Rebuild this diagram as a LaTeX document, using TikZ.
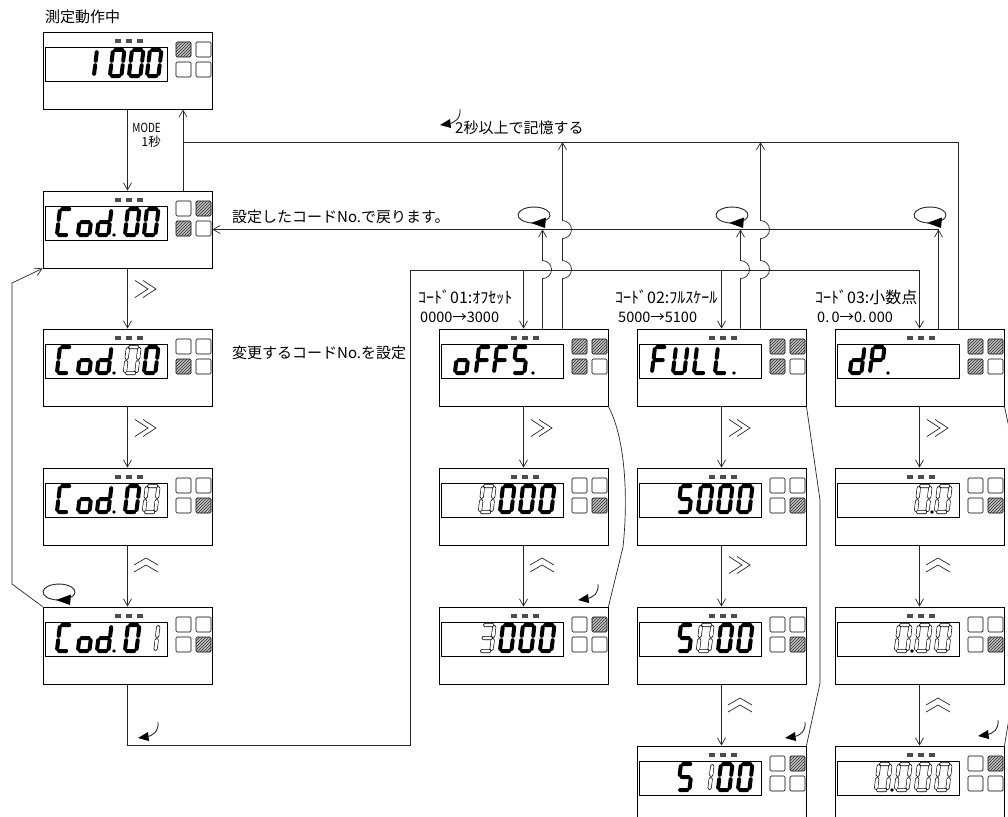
\documentclass[tikz,border=0pt]{standalone}
\usepackage{fontspec}
\newfontfamily\jp{Noto Sans CJK JP}
\usetikzlibrary{arrows.meta,patterns,calc}
% seven segment pieces (local coords, y down)
\def\SgA{(2.2,0)--(9.3,0)}
\def\SgB{(11.5,2.2)--(11.5,10.8)}
\def\SgC{(11.5,15.2)--(11.5,23.8)}
\def\SgD{(2.2,26)--(9.3,26)}
\def\SgE{(0,15.2)--(0,23.8)}
\def\SgF{(0,2.2)--(0,10.8)}
\def\SgG{(2.2,13)--(9.3,13)}
\def\cZero{\SgA\SgB\SgC\SgD\SgE\SgF}
\def\cOneR{\SgB\SgC}
\def\cOneL{\SgE\SgF}
\def\cThree{\SgA\SgB\SgC\SgD\SgG}
\def\cFive{\SgA\SgF\SgG\SgC\SgD}
\def\cCee{\SgA\SgF\SgE\SgD}
\def\cOh{\SgG\SgC\SgD\SgE}
\def\cDee{\SgB\SgC\SgD\SgE\SgG}
\def\cEf{\SgA\SgF\SgE\SgG}
\def\cU{\SgB\SgC\SgD\SgE\SgF}
\def\cL{\SgF\SgE\SgD}
\def\cP{\SgA\SgB\SgF\SgE\SgG}
\newcommand{\dg}[3]{\begin{scope}[shift={(#1,18)},xslant=0.12]\draw[#3] #2;\end{scope}}
\newcommand{\dt}[1]{\fill (#1,44) circle[radius=1.8];}
\newcommand{\dev}[8]{%
  \node[devbox] (#1) at (#2+84.5,#3+38.5) {};
  \begin{scope}[shift={(#2,#3)}]
    \draw[line width=0.6pt] (2,15) rectangle (124,49);
    \fill[black!70] (72,7) rectangle (78,11);
    \fill[black!70] (83,7) rectangle (89,11);
    \fill[black!70] (94,7) rectangle (100,11);
    \draw[#4] (133,10) rectangle (148,25);
    \draw[#5] (153,10) rectangle (168,25);
    \draw[#6] (133,30) rectangle (148,45);
    \draw[#7] (153,30) rectangle (168,45);
    #8
  \end{scope}}
\newcommand{\rch}[2]{\draw[ln] (#1-11,#2-8.5) -- (#1+2,#2) -- (#1-11,#2+8.5) (#1-3,#2-8.5) -- (#1+10,#2) -- (#1-3,#2+8.5);}
\newcommand{\uch}[2]{\draw[ln] (#1-12,#2) -- (#1,#2-7) -- (#1+12,#2) (#1-12,#2+7) -- (#1,#2) -- (#1+12,#2+7);}
\newcommand{\rotsym}[2]{\draw[ln,line width=0.9pt] (#1,#2) ++(-1.4,8) arc[start angle=95,end angle=402,x radius=16,y radius=8];
  \fill (#1-3,#2+8) -- (#1+12,#2+2.5) -- (#1+11,#2+13) -- cycle;}
\newcommand{\hk}[2]{\draw[ln,line width=0.9pt] (#1+20,#2-16) .. controls (#1+21,#2-7) and (#1+15,#2-2) .. (#1+8,#2-1);
  \fill (#1,#2) -- (#1+10,#2-6) -- (#1+11,#2+3) -- cycle;}
\begin{document}
\begin{tikzpicture}[x=1pt,y=-1pt,
  ln/.style={line width=0.7pt,draw=black!85},
  arr/.style={ln,-{Straight Barb[length=7pt,width=8pt]}},
  devbox/.style={draw,line width=0.9pt,minimum width=169pt,minimum height=77pt,inner sep=0pt},
  fs/.style={line width=4pt,line cap=round,draw=black},
  os/.style={line width=0.6pt,draw=black,double=white,double distance=2.8pt,line cap=round},
  hs/.style={draw,line width=0.6pt,rounded corners=1.2pt,fill=black!25,postaction={pattern=north east lines,pattern color=black!80}},
  ws/.style={draw,line width=0.6pt,rounded corners=1.2pt,fill=white},
  lbl/.style={font=\jp\fontsize{15}{17}\selectfont,inner sep=0pt,anchor=west},
  kana/.style={font=\jp\fontsize{16}{18}\selectfont,inner sep=0pt,anchor=west},
  num/.style={font=\jp\fontsize{14.5}{16}\selectfont,inner sep=0pt,anchor=west},
  sml/.style={font=\jp\fontsize{12.5}{14}\selectfont,inner sep=0pt,anchor=east}]
\useasboundingbox (0,0) rectangle (1008,816);
\clip (0,0) rectangle (1008,816);
% ---------- left column
\dev{L1}{43}{32}{hs}{ws}{ws}{ws}{\dg{54}{\cOneL}{fs}\dg{70}{\cZero}{fs}\dg{89}{\cZero}{fs}\dg{107}{\cZero}{fs}}
\dev{L2}{43}{191}{ws}{hs}{hs}{ws}{\dg{17}{\cCee}{fs}\dg{38}{\cOh}{fs}\dg{57}{\cDee}{fs}\dt{71}\dg{85}{\cZero}{fs}\dg{104}{\cZero}{fs}}
\dev{L3}{43}{329}{ws}{ws}{hs}{ws}{\dg{17}{\cCee}{fs}\dg{38}{\cOh}{fs}\dg{57}{\cDee}{fs}\dt{71}\dg{85}{\cZero}{os}\dg{104}{\cZero}{fs}}
\dev{L4}{43}{468}{ws}{ws}{ws}{hs}{\dg{17}{\cCee}{fs}\dg{38}{\cOh}{fs}\dg{57}{\cDee}{fs}\dt{71}\dg{85}{\cZero}{fs}\dg{104}{\cZero}{os}}
\dev{L5}{43}{607}{ws}{ws}{ws}{hs}{\dg{17}{\cCee}{fs}\dg{38}{\cOh}{fs}\dg{57}{\cDee}{fs}\dt{71}\dg{85}{\cZero}{fs}\dg{104}{\cOneR}{os}}
% ---------- offset column
\dev{O1}{439}{329}{hs}{hs}{hs}{ws}{\dg{19}{\cOh}{fs}\dg{40}{\cEf}{fs}\dg{58}{\cEf}{fs}\dg{77}{\cFive}{fs}\dt{94}}
\dev{O2}{439}{468}{ws}{ws}{ws}{hs}{\dg{44}{\cZero}{os}\dg{64}{\cZero}{fs}\dg{84}{\cZero}{fs}\dg{104}{\cZero}{fs}}
\dev{O3}{439}{607}{ws}{hs}{ws}{ws}{\dg{44}{\cThree}{os}\dg{64}{\cZero}{fs}\dg{84}{\cZero}{fs}\dg{104}{\cZero}{fs}}
% ---------- full scale column
\dev{F1}{637}{329}{hs}{hs}{hs}{ws}{\dg{18}{\cEf}{fs}\dg{39}{\cU}{fs}\dg{60}{\cL}{fs}\dg{81}{\cL}{fs}\dt{97}}
\dev{F2}{637}{468}{ws}{ws}{ws}{hs}{\dg{44}{\cFive}{fs}\dg{64}{\cZero}{fs}\dg{84}{\cZero}{fs}\dg{104}{\cZero}{fs}}
\dev{F3}{637}{607}{ws}{ws}{ws}{hs}{\dg{44}{\cFive}{fs}\dg{64}{\cZero}{os}\dg{84}{\cZero}{fs}\dg{104}{\cZero}{fs}}
\dev{F4}{637}{746}{ws}{hs}{ws}{ws}{\dg{44}{\cFive}{fs}\dg{64}{\cOneR}{os}\dg{84}{\cZero}{fs}\dg{104}{\cZero}{fs}}
% ---------- decimal point column
\dev{D1}{835}{329}{hs}{hs}{hs}{ws}{\dg{18}{\cDee}{fs}\dg{38}{\cP}{fs}\dt{53}}
\dev{D2}{835}{468}{ws}{ws}{ws}{hs}{\dg{84}{\cZero}{os}\dt{97}\dg{104}{\cZero}{os}}
\dev{D3}{835}{607}{ws}{ws}{ws}{hs}{\dg{64}{\cZero}{os}\dt{77}\dg{84}{\cZero}{os}\dg{104}{\cZero}{os}}
\dev{D4}{835}{746}{ws}{hs}{ws}{ws}{\dg{44}{\cZero}{os}\dt{57}\dg{64}{\cZero}{os}\dg{84}{\cZero}{os}\dg{104}{\cZero}{os}}
% ---------- helper coordinates
\coordinate (yM) at (0,142);
\coordinate (yR) at (L2.east);
\coordinate (yC) at (0,270);
\coordinate (yB) at (0,745);
\coordinate (xB) at (410,0);
\coordinate (l1m) at ([xshift=55.5pt]L1.south);
\coordinate (l2m) at ([xshift=55.5pt]L2.north);
\coordinate (o1r) at ([xshift=19pt]O1.north);
\coordinate (o1m) at ([xshift=39pt]O1.north);
\coordinate (f1r) at ([xshift=19pt]F1.north);
\coordinate (f1m) at ([xshift=39pt]F1.north);
\coordinate (d1r) at ([xshift=19pt]D1.north);
\coordinate (d1m) at ([xshift=39pt]D1.north);
\coordinate (lr1) at (12,584);
\coordinate (lr2) at (12,283);
% ---------- left column connectors
\draw[arr] (L1.south) -- (L2.north);
\draw[arr] (L2.south) -- (L3.north);
\draw[arr] (L3.south) -- (L4.north);
\draw[arr] (L4.south) -- (L5.north);
\draw[ln] (l2m) -- (l1m |- yM);
\draw[arr] (d1m) -- (d1m |- yM) -- (l1m |- yM) -- (l1m);
\draw[arr] (L5.north west) -- (lr1) -- (lr2) -- (L2.south west);
% code selection line
\draw[arr] (L5.south) -- (L5.south |- yB) -- (xB |- yB) -- (xB |- yC) -- (D1.north |- yC) -- (D1.north);
\draw[arr] (O1.north |- yC) -- (O1.north);
\draw[arr] (F1.north |- yC) -- (F1.north);
% return with set code
\draw[arr] (d1r) -- (d1r |- yR);
\draw[arr] (d1r |- yR) -- (L2.east);
\draw[arr] (o1r) -- ++(0,-50) arc[start angle=90,end angle=-90,radius=9] -- (o1r |- yR);
\draw[arr] (f1r) -- ++(0,-50) arc[start angle=90,end angle=-90,radius=9] -- (f1r |- yR);
% store lines
\draw[arr] (o1m) -- ++(0,-50) arc[start angle=90,end angle=-90,radius=9] -- ++(0,-22) arc[start angle=90,end angle=-90,radius=9] -- (o1m |- yM);
\draw[arr] (f1m) -- ++(0,-50) arc[start angle=90,end angle=-90,radius=9] -- ++(0,-22) arc[start angle=90,end angle=-90,radius=9] -- (f1m |- yM);
% column arrows
\draw[arr] (O1.south) -- (O2.north);
\draw[arr] (O2.south) -- (O3.north);
\draw[arr] (F1.south) -- (F2.north);
\draw[arr] (F2.south) -- (F3.north);
\draw[arr] (F3.south) -- (F4.north);
\draw[arr] (D1.south) -- (D2.north);
\draw[arr] (D2.south) -- (D3.north);
\draw[arr] (D3.south) -- (D4.north);
% return lines behind the columns
\draw[ln] (O1.south east) .. controls (626,440) and (628,500) .. (623,547) -- (O3.north east);
\draw[ln] (F1.south east) -- (820,500) -- (820,683) -- (F4.north east);
\draw[ln] (D1.south east) -- (1016,460) -- (1015,683) -- (D4.north east);
% key symbols
\rch{146}{289}\rch{146}{428}
\uch{146}{565}
\rch{542}{428}\uch{542}{565}
\rch{740}{428}\rch{740}{565}\uch{740}{705}
\rch{938}{428}\uch{938}{565}\uch{938}{705}
\rotsym{59}{592}
\rotsym{534}{215}\rotsym{732}{215}\rotsym{930}{215}
\hk{440}{125}
\hk{138}{738}
\hk{578}{600}
\hk{785}{738}
\hk{978}{736}
% ---------- texts
\node[lbl] (t0) at (45,17) {測定動作中};
\node[sml] (t1) at (161,128) {\scalebox{0.8}[1]{MODE}};
\node[sml] (t2) at (161,142) {1秒};
\node[lbl] (t3) at (455,128) {2秒以上で記憶する};
\node[lbl] (t4) at (232,217) {設定したコードNo.で戻ります。};
\node[lbl] (t5) at (232,353) {変更するコードNo.を設定};
\node[kana] (t6) at (418,297) {ｺｰﾄﾞ01:ｵﾌｾｯﾄ};
\node[num] (t7) at (420,317) {0000→3000};
\node[kana] (t8) at (615,297) {ｺｰﾄﾞ02:ﾌﾙｽｹｰﾙ};
\node[num] (t9) at (618,317) {5000→5100};
\node[kana] (t10) at (815,297) {ｺｰﾄﾞ03:小数点};
\node[num] (t11) at (817,317) {0.\,0→0.\,000};
\end{tikzpicture}
\end{document}
